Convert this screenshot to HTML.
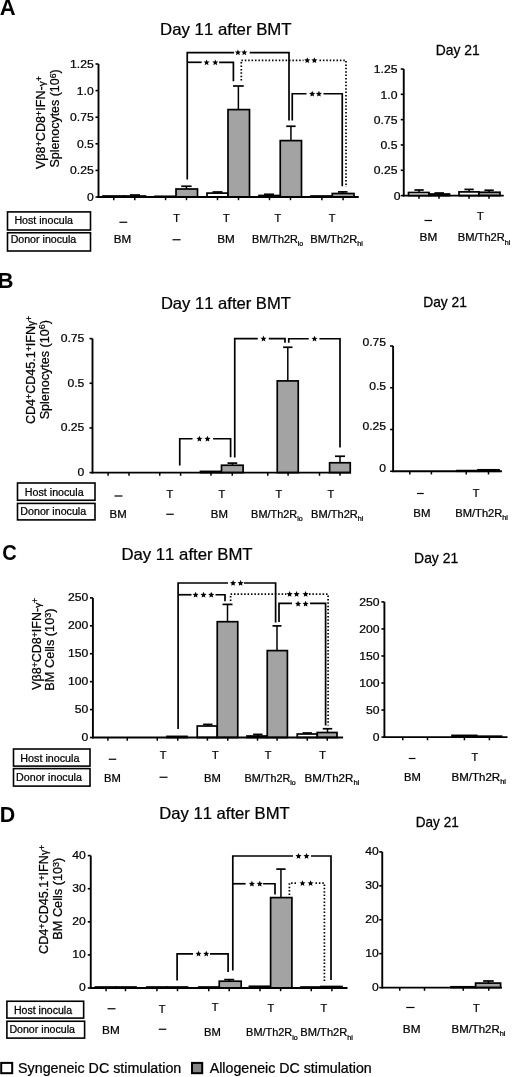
<!DOCTYPE html>
<html><head><meta charset="utf-8"><style>
html,body{margin:0;padding:0;background:#fff;}
body{width:520px;height:1077px;overflow:hidden;}
svg{display:block;font-family:"Liberation Sans", sans-serif;font-kerning:none;will-change:transform;}
</style></head><body>
<svg width="520" height="1077" viewBox="0 0 520 1077">
<rect x="0" y="0" width="520" height="1077" fill="#fff"/>
<g transform="translate(-0.25,14.80) scale(1.0260,1)" font-weight="bold" fill="#000"><text x="0.00" y="-0.00" font-size="21.50">A</text></g>
<g transform="translate(160.12,34.75) scale(1.0296,1)" fill="#000" stroke="#000" stroke-width="0.243"><text x="0.00" y="-0.00" font-size="16.30">Day 11 after BMT</text></g>
<g transform="translate(435.76,54.75) scale(0.9900,1)" fill="#000" stroke="#000" stroke-width="0.253"><text x="0.00" y="-0.00" font-size="14.00">Day 21</text></g>
<g transform="translate(44.80,169.06) rotate(-90) scale(1.0516,1)" fill="#000" stroke="#000" stroke-width="0.238"><text x="0.00" y="0.00" font-size="12.00">Vβ8</text><text x="21.58" y="-2.40" font-size="8.40">+</text><text x="26.49" y="0.00" font-size="12.00">CD8</text><text x="50.49" y="-2.40" font-size="8.40">+</text><text x="55.40" y="0.00" font-size="12.00">IFN-</text><text x="78.72" y="0.00" font-size="9.60">γ</text><text x="83.52" y="-2.40" font-size="8.40">+</text></g>
<g transform="translate(58.60,167.57) rotate(-90) scale(1.0382,1)" fill="#000" stroke="#000" stroke-width="0.241"><text x="0.00" y="0.00" font-size="12.00">Splenocytes (10</text><text x="86.05" y="-3.00" font-size="8.40">6</text><text x="90.72" y="0.00" font-size="12.00">)</text></g>
<rect x="103.00" y="196.00" width="21.00" height="1.00" fill="#fff" stroke="#000" stroke-width="1.7"/>
<line x1="135.00" y1="196.00" x2="135.00" y2="195.00" stroke="#000" stroke-width="1.5" stroke-linecap="butt"/>
<line x1="130.00" y1="195.00" x2="140.00" y2="195.00" stroke="#000" stroke-width="1.7" stroke-linecap="butt"/>
<rect x="124.00" y="196.00" width="21.50" height="1.00" fill="#a3a3a3" stroke="#000" stroke-width="1.7"/>
<rect x="155.00" y="196.30" width="21.00" height="0.70" fill="#fff" stroke="#000" stroke-width="1.7"/>
<line x1="186.43" y1="189.00" x2="186.43" y2="186.25" stroke="#000" stroke-width="1.5" stroke-linecap="butt"/>
<line x1="181.25" y1="186.25" x2="191.60" y2="186.25" stroke="#000" stroke-width="1.7" stroke-linecap="butt"/>
<rect x="176.00" y="189.00" width="21.50" height="8.00" fill="#a3a3a3" stroke="#000" stroke-width="1.7"/>
<line x1="217.50" y1="193.10" x2="217.50" y2="192.00" stroke="#000" stroke-width="1.5" stroke-linecap="butt"/>
<line x1="212.50" y1="192.00" x2="222.50" y2="192.00" stroke="#000" stroke-width="1.7" stroke-linecap="butt"/>
<rect x="207.00" y="193.10" width="21.00" height="3.90" fill="#fff" stroke="#000" stroke-width="1.7"/>
<line x1="238.38" y1="109.60" x2="238.38" y2="86.00" stroke="#000" stroke-width="1.5" stroke-linecap="butt"/>
<line x1="233.00" y1="86.00" x2="243.75" y2="86.00" stroke="#000" stroke-width="1.7" stroke-linecap="butt"/>
<rect x="228.00" y="109.60" width="21.50" height="87.40" fill="#a3a3a3" stroke="#000" stroke-width="1.7"/>
<line x1="269.00" y1="195.50" x2="269.00" y2="194.30" stroke="#000" stroke-width="1.5" stroke-linecap="butt"/>
<line x1="264.00" y1="194.30" x2="274.00" y2="194.30" stroke="#000" stroke-width="1.7" stroke-linecap="butt"/>
<rect x="259.00" y="195.50" width="21.25" height="1.50" fill="#fff" stroke="#000" stroke-width="1.7"/>
<line x1="290.93" y1="140.60" x2="290.93" y2="126.25" stroke="#000" stroke-width="1.5" stroke-linecap="butt"/>
<line x1="286.25" y1="126.25" x2="295.60" y2="126.25" stroke="#000" stroke-width="1.7" stroke-linecap="butt"/>
<rect x="280.25" y="140.60" width="21.25" height="56.40" fill="#a3a3a3" stroke="#000" stroke-width="1.7"/>
<rect x="311.00" y="196.00" width="21.00" height="1.00" fill="#fff" stroke="#000" stroke-width="1.7"/>
<line x1="342.75" y1="193.50" x2="342.75" y2="191.90" stroke="#000" stroke-width="1.5" stroke-linecap="butt"/>
<line x1="338.00" y1="191.90" x2="347.50" y2="191.90" stroke="#000" stroke-width="1.7" stroke-linecap="butt"/>
<rect x="332.25" y="193.50" width="21.75" height="3.50" fill="#a3a3a3" stroke="#000" stroke-width="1.7"/>
<line x1="98.50" y1="64.00" x2="98.50" y2="197.85" stroke="#000" stroke-width="1.9" stroke-linecap="butt"/>
<line x1="97.65" y1="197.00" x2="358.75" y2="197.00" stroke="#000" stroke-width="1.9" stroke-linecap="butt"/>
<line x1="95.50" y1="197.00" x2="98.50" y2="197.00" stroke="#000" stroke-width="1.6" stroke-linecap="butt"/>
<g transform="translate(87.00,201.00) scale(1.0500,1)" fill="#000" stroke="#000" stroke-width="0.238"><text x="0.00" y="-0.00" font-size="11.60">0</text></g>
<line x1="95.50" y1="170.40" x2="98.50" y2="170.40" stroke="#000" stroke-width="1.6" stroke-linecap="butt"/>
<g transform="translate(70.11,174.40) scale(1.0500,1)" fill="#000" stroke="#000" stroke-width="0.238"><text x="0.00" y="-0.00" font-size="11.60">0.25</text></g>
<line x1="95.50" y1="143.80" x2="98.50" y2="143.80" stroke="#000" stroke-width="1.6" stroke-linecap="butt"/>
<g transform="translate(76.88,147.80) scale(1.0500,1)" fill="#000" stroke="#000" stroke-width="0.238"><text x="0.00" y="-0.00" font-size="11.60">0.5</text></g>
<line x1="95.50" y1="117.20" x2="98.50" y2="117.20" stroke="#000" stroke-width="1.6" stroke-linecap="butt"/>
<g transform="translate(70.11,121.20) scale(1.0500,1)" fill="#000" stroke="#000" stroke-width="0.238"><text x="0.00" y="-0.00" font-size="11.60">0.75</text></g>
<line x1="95.50" y1="90.60" x2="98.50" y2="90.60" stroke="#000" stroke-width="1.6" stroke-linecap="butt"/>
<g transform="translate(76.84,94.60) scale(1.0500,1)" fill="#000" stroke="#000" stroke-width="0.238"><text x="0.00" y="-0.00" font-size="11.60">1.0</text></g>
<line x1="95.50" y1="64.00" x2="98.50" y2="64.00" stroke="#000" stroke-width="1.6" stroke-linecap="butt"/>
<g transform="translate(70.11,68.00) scale(1.0500,1)" fill="#000" stroke="#000" stroke-width="0.238"><text x="0.00" y="-0.00" font-size="11.60">1.25</text></g>
<line x1="113.75" y1="197.00" x2="113.75" y2="200.20" stroke="#000" stroke-width="1.5" stroke-linecap="butt"/>
<line x1="134.75" y1="197.00" x2="134.75" y2="200.20" stroke="#000" stroke-width="1.5" stroke-linecap="butt"/>
<line x1="165.60" y1="197.00" x2="165.60" y2="200.20" stroke="#000" stroke-width="1.5" stroke-linecap="butt"/>
<line x1="186.50" y1="197.00" x2="186.50" y2="200.20" stroke="#000" stroke-width="1.5" stroke-linecap="butt"/>
<line x1="217.50" y1="197.00" x2="217.50" y2="200.20" stroke="#000" stroke-width="1.5" stroke-linecap="butt"/>
<line x1="238.50" y1="197.00" x2="238.50" y2="200.20" stroke="#000" stroke-width="1.5" stroke-linecap="butt"/>
<line x1="269.50" y1="197.00" x2="269.50" y2="200.20" stroke="#000" stroke-width="1.5" stroke-linecap="butt"/>
<line x1="290.50" y1="197.00" x2="290.50" y2="200.20" stroke="#000" stroke-width="1.5" stroke-linecap="butt"/>
<line x1="321.90" y1="197.00" x2="321.90" y2="200.20" stroke="#000" stroke-width="1.5" stroke-linecap="butt"/>
<line x1="343.10" y1="197.00" x2="343.10" y2="200.20" stroke="#000" stroke-width="1.5" stroke-linecap="butt"/>
<line x1="419.07" y1="192.50" x2="419.07" y2="190.00" stroke="#000" stroke-width="1.5" stroke-linecap="butt"/>
<line x1="414.40" y1="190.00" x2="423.75" y2="190.00" stroke="#000" stroke-width="1.7" stroke-linecap="butt"/>
<rect x="408.50" y="192.50" width="20.50" height="3.10" fill="#fff" stroke="#000" stroke-width="1.7"/>
<line x1="439.25" y1="194.00" x2="439.25" y2="193.00" stroke="#000" stroke-width="1.5" stroke-linecap="butt"/>
<line x1="434.50" y1="193.00" x2="444.00" y2="193.00" stroke="#000" stroke-width="1.7" stroke-linecap="butt"/>
<rect x="429.00" y="194.00" width="20.50" height="1.60" fill="#a3a3a3" stroke="#000" stroke-width="1.7"/>
<line x1="469.07" y1="191.90" x2="469.07" y2="189.40" stroke="#000" stroke-width="1.5" stroke-linecap="butt"/>
<line x1="464.40" y1="189.40" x2="473.75" y2="189.40" stroke="#000" stroke-width="1.7" stroke-linecap="butt"/>
<rect x="459.00" y="191.90" width="20.00" height="3.70" fill="#fff" stroke="#000" stroke-width="1.7"/>
<line x1="489.07" y1="192.25" x2="489.07" y2="190.25" stroke="#000" stroke-width="1.5" stroke-linecap="butt"/>
<line x1="484.40" y1="190.25" x2="493.75" y2="190.25" stroke="#000" stroke-width="1.7" stroke-linecap="butt"/>
<rect x="479.00" y="192.25" width="21.00" height="3.35" fill="#a3a3a3" stroke="#000" stroke-width="1.7"/>
<line x1="403.75" y1="69.00" x2="403.75" y2="196.45" stroke="#000" stroke-width="1.9" stroke-linecap="butt"/>
<line x1="402.90" y1="195.60" x2="503.75" y2="195.60" stroke="#000" stroke-width="1.9" stroke-linecap="butt"/>
<line x1="400.75" y1="195.60" x2="403.75" y2="195.60" stroke="#000" stroke-width="1.6" stroke-linecap="butt"/>
<g transform="translate(393.70,199.90) scale(1.0500,1)" fill="#000" stroke="#000" stroke-width="0.238"><text x="0.00" y="-0.00" font-size="11.60">0</text></g>
<line x1="400.75" y1="170.28" x2="403.75" y2="170.28" stroke="#000" stroke-width="1.6" stroke-linecap="butt"/>
<g transform="translate(373.81,174.48) scale(1.0500,1)" fill="#000" stroke="#000" stroke-width="0.238"><text x="0.00" y="-0.00" font-size="11.60">0.25</text></g>
<line x1="400.75" y1="144.96" x2="403.75" y2="144.96" stroke="#000" stroke-width="1.6" stroke-linecap="butt"/>
<g transform="translate(380.58,149.16) scale(1.0500,1)" fill="#000" stroke="#000" stroke-width="0.238"><text x="0.00" y="-0.00" font-size="11.60">0.5</text></g>
<line x1="400.75" y1="119.64" x2="403.75" y2="119.64" stroke="#000" stroke-width="1.6" stroke-linecap="butt"/>
<g transform="translate(373.81,123.84) scale(1.0500,1)" fill="#000" stroke="#000" stroke-width="0.238"><text x="0.00" y="-0.00" font-size="11.60">0.75</text></g>
<line x1="400.75" y1="94.32" x2="403.75" y2="94.32" stroke="#000" stroke-width="1.6" stroke-linecap="butt"/>
<g transform="translate(380.54,98.52) scale(1.0500,1)" fill="#000" stroke="#000" stroke-width="0.238"><text x="0.00" y="-0.00" font-size="11.60">1.0</text></g>
<line x1="400.75" y1="69.00" x2="403.75" y2="69.00" stroke="#000" stroke-width="1.6" stroke-linecap="butt"/>
<g transform="translate(373.81,73.20) scale(1.0500,1)" fill="#000" stroke="#000" stroke-width="0.238"><text x="0.00" y="-0.00" font-size="11.60">1.25</text></g>
<line x1="419.00" y1="195.60" x2="419.00" y2="198.80" stroke="#000" stroke-width="1.5" stroke-linecap="butt"/>
<line x1="439.00" y1="195.60" x2="439.00" y2="198.80" stroke="#000" stroke-width="1.5" stroke-linecap="butt"/>
<line x1="469.00" y1="195.60" x2="469.00" y2="198.80" stroke="#000" stroke-width="1.5" stroke-linecap="butt"/>
<line x1="489.00" y1="195.60" x2="489.00" y2="198.80" stroke="#000" stroke-width="1.5" stroke-linecap="butt"/>
<polyline points="187.25,179.40 187.25,52.60 234.10,52.60" fill="none" stroke="#000" stroke-width="1.7" stroke-linejoin="miter" stroke-linecap="butt"/>
<polyline points="249.70,52.60 289.00,52.60 289.00,120.60" fill="none" stroke="#000" stroke-width="1.7" stroke-linejoin="miter" stroke-linecap="butt"/>
<polygon points="237.90,49.40 238.75,51.44 240.94,51.61 239.27,53.04 239.78,55.19 237.90,54.04 236.02,55.19 236.53,53.04 234.86,51.61 237.05,51.44" fill="#000"/>
<polygon points="244.30,49.40 245.15,51.44 247.34,51.61 245.67,53.04 246.18,55.19 244.30,54.04 242.42,55.19 242.93,53.04 241.26,51.61 243.45,51.44" fill="#000"/>
<polyline points="187.25,62.30 201.70,62.30" fill="none" stroke="#000" stroke-width="1.7" stroke-linejoin="miter" stroke-linecap="butt"/>
<polyline points="219.10,62.30 233.40,62.30 233.40,81.25" fill="none" stroke="#000" stroke-width="1.7" stroke-linejoin="miter" stroke-linecap="butt"/>
<polygon points="206.60,59.40 207.45,61.44 209.64,61.61 207.97,63.04 208.48,65.19 206.60,64.04 204.72,65.19 205.23,63.04 203.56,61.61 205.75,61.44" fill="#000"/>
<polygon points="215.30,59.40 216.15,61.44 218.34,61.61 216.67,63.04 217.18,65.19 215.30,64.04 213.42,65.19 213.93,63.04 212.26,61.61 214.45,61.44" fill="#000"/>
<polyline points="241.30,80.60 241.30,60.30 303.50,60.30" fill="none" stroke="#000" stroke-width="1.7" stroke-linejoin="miter" stroke-linecap="butt" stroke-dasharray="1.5,1.9"/>
<polyline points="319.50,60.30 346.00,60.30 346.00,186.90" fill="none" stroke="#000" stroke-width="1.7" stroke-linejoin="miter" stroke-linecap="butt" stroke-dasharray="1.5,1.9"/>
<polygon points="307.25,57.30 308.10,59.34 310.29,59.51 308.62,60.94 309.13,63.09 307.25,61.94 305.37,63.09 305.88,60.94 304.21,59.51 306.40,59.34" fill="#000"/>
<polygon points="314.40,57.30 315.25,59.34 317.44,59.51 315.77,60.94 316.28,63.09 314.40,61.94 312.52,63.09 313.03,60.94 311.36,59.51 313.55,59.34" fill="#000"/>
<polyline points="292.25,120.60 292.25,93.75 306.50,93.75" fill="none" stroke="#000" stroke-width="1.7" stroke-linejoin="miter" stroke-linecap="butt"/>
<polyline points="323.50,93.75 342.25,93.75 342.25,186.25" fill="none" stroke="#000" stroke-width="1.7" stroke-linejoin="miter" stroke-linecap="butt"/>
<polygon points="312.20,90.80 313.05,92.84 315.24,93.01 313.57,94.44 314.08,96.59 312.20,95.44 310.32,96.59 310.83,94.44 309.16,93.01 311.35,92.84" fill="#000"/>
<polygon points="318.90,90.80 319.75,92.84 321.94,93.01 320.27,94.44 320.78,96.59 318.90,95.44 317.02,96.59 317.53,94.44 315.86,93.01 318.05,92.84" fill="#000"/>
<rect x="7.50" y="211.90" width="83.00" height="18.10" fill="none" stroke="#000" stroke-width="1.6"/>
<rect x="7.50" y="232.75" width="83.00" height="18.25" fill="none" stroke="#000" stroke-width="1.6"/>
<g transform="translate(14.38,224.00) scale(1.0050,1)" fill="#000" stroke="#000" stroke-width="0.249"><text x="0.00" y="-0.00" font-size="10.60">Host inocula</text></g>
<g transform="translate(10.63,243.10) scale(1.0033,1)" fill="#000" stroke="#000" stroke-width="0.249"><text x="0.00" y="-0.00" font-size="10.60">Donor inocula</text></g>
<line x1="119.40" y1="222.25" x2="127.25" y2="222.25" stroke="#000" stroke-width="1.2" stroke-linecap="butt"/>
<g transform="translate(173.25,221.90) scale(1.0344,1)" fill="#000" stroke="#000" stroke-width="0.242"><text x="0.00" y="-0.00" font-size="10.60">T</text></g>
<g transform="translate(222.90,221.90) scale(1.0344,1)" fill="#000" stroke="#000" stroke-width="0.242"><text x="0.00" y="-0.00" font-size="10.60">T</text></g>
<g transform="translate(274.40,221.90) scale(1.0344,1)" fill="#000" stroke="#000" stroke-width="0.242"><text x="0.00" y="-0.00" font-size="10.60">T</text></g>
<g transform="translate(328.75,221.90) scale(1.0344,1)" fill="#000" stroke="#000" stroke-width="0.242"><text x="0.00" y="-0.00" font-size="10.60">T</text></g>
<line x1="424.50" y1="220.50" x2="432.00" y2="220.50" stroke="#000" stroke-width="1.2" stroke-linecap="butt"/>
<g transform="translate(476.90,220.00) scale(1.0344,1)" fill="#000" stroke="#000" stroke-width="0.242"><text x="0.00" y="-0.00" font-size="10.60">T</text></g>
<g transform="translate(113.80,242.50) scale(1.0946,1)" fill="#000" stroke="#000" stroke-width="0.228"><text x="0.00" y="-0.00" font-size="10.60">BM</text></g>
<line x1="172.50" y1="239.75" x2="180.60" y2="239.75" stroke="#000" stroke-width="1.2" stroke-linecap="butt"/>
<g transform="translate(217.14,242.50) scale(1.1052,1)" fill="#000" stroke="#000" stroke-width="0.226"><text x="0.00" y="-0.00" font-size="10.60">BM</text></g>
<g transform="translate(252.11,242.50) scale(1.0211,1)" fill="#000" stroke="#000" stroke-width="0.245"><text x="0.00" y="-0.00" font-size="10.60">BM/Th2R</text><text x="44.77" y="3.29" font-size="6.89">lo</text></g>
<g transform="translate(310.34,242.50) scale(1.0503,1)" fill="#000" stroke="#000" stroke-width="0.238"><text x="0.00" y="-0.00" font-size="10.60">BM/Th2R</text><text x="44.77" y="3.29" font-size="6.89">hi</text></g>
<g transform="translate(419.53,241.25) scale(1.1122,1)" fill="#000" stroke="#000" stroke-width="0.225"><text x="0.00" y="-0.00" font-size="10.60">BM</text></g>
<g transform="translate(457.84,241.25) scale(1.0503,1)" fill="#000" stroke="#000" stroke-width="0.238"><text x="0.00" y="-0.00" font-size="10.60">BM/Th2R</text><text x="44.77" y="3.29" font-size="6.89">hi</text></g>
<g transform="translate(-2.48,288.10) scale(1.0296,1)" font-weight="bold" fill="#000"><text x="0.00" y="-0.00" font-size="21.50">B</text></g>
<g transform="translate(160.89,309.00) scale(1.0185,1)" fill="#000" stroke="#000" stroke-width="0.245"><text x="0.00" y="-0.00" font-size="16.30">Day 11 after BMT</text></g>
<g transform="translate(423.27,306.90) scale(0.9841,1)" fill="#000" stroke="#000" stroke-width="0.254"><text x="0.00" y="-0.00" font-size="14.00">Day 21</text></g>
<g transform="translate(34.90,424.04) rotate(-90) scale(0.9653,1)" fill="#000" stroke="#000" stroke-width="0.259"><text x="0.00" y="0.00" font-size="13.00">CD4</text><text x="26.01" y="-2.60" font-size="9.10">+</text><text x="31.32" y="0.00" font-size="13.00">CD45.1</text><text x="75.40" y="-2.60" font-size="9.10">+</text><text x="80.71" y="0.00" font-size="13.00">IFN</text><text x="101.65" y="0.00" font-size="10.40">γ</text><text x="106.85" y="-2.60" font-size="9.10">+</text></g>
<g transform="translate(48.60,419.37) rotate(-90) scale(0.9682,1)" fill="#000" stroke="#000" stroke-width="0.258"><text x="0.00" y="0.00" font-size="13.00">Splenocytes (10</text><text x="93.22" y="-3.25" font-size="9.10">6</text><text x="98.28" y="0.00" font-size="13.00">)</text></g>
<rect x="200.50" y="471.40" width="21.00" height="1.20" fill="#fff" stroke="#000" stroke-width="1.7"/>
<line x1="232.38" y1="465.25" x2="232.38" y2="463.10" stroke="#000" stroke-width="1.5" stroke-linecap="butt"/>
<line x1="227.50" y1="463.10" x2="237.25" y2="463.10" stroke="#000" stroke-width="1.7" stroke-linecap="butt"/>
<rect x="221.50" y="465.25" width="21.60" height="7.35" fill="#a3a3a3" stroke="#000" stroke-width="1.7"/>
<line x1="287.80" y1="380.90" x2="287.80" y2="347.25" stroke="#000" stroke-width="1.5" stroke-linecap="butt"/>
<line x1="283.10" y1="347.25" x2="292.50" y2="347.25" stroke="#000" stroke-width="1.7" stroke-linecap="butt"/>
<rect x="277.25" y="380.90" width="21.00" height="91.70" fill="#a3a3a3" stroke="#000" stroke-width="1.7"/>
<line x1="340.00" y1="462.75" x2="340.00" y2="456.25" stroke="#000" stroke-width="1.5" stroke-linecap="butt"/>
<line x1="335.00" y1="456.25" x2="345.00" y2="456.25" stroke="#000" stroke-width="1.7" stroke-linecap="butt"/>
<rect x="329.60" y="462.75" width="20.65" height="9.85" fill="#a3a3a3" stroke="#000" stroke-width="1.7"/>
<line x1="92.50" y1="338.60" x2="92.50" y2="473.45" stroke="#000" stroke-width="1.9" stroke-linecap="butt"/>
<line x1="91.65" y1="472.60" x2="351.00" y2="472.60" stroke="#000" stroke-width="1.9" stroke-linecap="butt"/>
<line x1="89.50" y1="472.60" x2="92.50" y2="472.60" stroke="#000" stroke-width="1.6" stroke-linecap="butt"/>
<g transform="translate(77.60,475.90) scale(1.0500,1)" fill="#000" stroke="#000" stroke-width="0.238"><text x="0.00" y="-0.00" font-size="11.60">0</text></g>
<line x1="89.50" y1="427.93" x2="92.50" y2="427.93" stroke="#000" stroke-width="1.6" stroke-linecap="butt"/>
<g transform="translate(60.71,431.23) scale(1.0500,1)" fill="#000" stroke="#000" stroke-width="0.238"><text x="0.00" y="-0.00" font-size="11.60">0.25</text></g>
<line x1="89.50" y1="383.27" x2="92.50" y2="383.27" stroke="#000" stroke-width="1.6" stroke-linecap="butt"/>
<g transform="translate(67.48,386.57) scale(1.0500,1)" fill="#000" stroke="#000" stroke-width="0.238"><text x="0.00" y="-0.00" font-size="11.60">0.5</text></g>
<line x1="89.50" y1="338.60" x2="92.50" y2="338.60" stroke="#000" stroke-width="1.6" stroke-linecap="butt"/>
<g transform="translate(60.71,341.90) scale(1.0500,1)" fill="#000" stroke="#000" stroke-width="0.238"><text x="0.00" y="-0.00" font-size="11.60">0.75</text></g>
<line x1="108.10" y1="472.60" x2="108.10" y2="475.80" stroke="#000" stroke-width="1.5" stroke-linecap="butt"/>
<line x1="129.00" y1="472.60" x2="129.00" y2="475.80" stroke="#000" stroke-width="1.5" stroke-linecap="butt"/>
<line x1="159.75" y1="472.60" x2="159.75" y2="475.80" stroke="#000" stroke-width="1.5" stroke-linecap="butt"/>
<line x1="180.60" y1="472.60" x2="180.60" y2="475.80" stroke="#000" stroke-width="1.5" stroke-linecap="butt"/>
<line x1="211.00" y1="472.60" x2="211.00" y2="475.80" stroke="#000" stroke-width="1.5" stroke-linecap="butt"/>
<line x1="232.25" y1="472.60" x2="232.25" y2="475.80" stroke="#000" stroke-width="1.5" stroke-linecap="butt"/>
<line x1="267.75" y1="472.60" x2="267.75" y2="475.80" stroke="#000" stroke-width="1.5" stroke-linecap="butt"/>
<line x1="288.10" y1="472.60" x2="288.10" y2="475.80" stroke="#000" stroke-width="1.5" stroke-linecap="butt"/>
<line x1="319.50" y1="472.60" x2="319.50" y2="475.80" stroke="#000" stroke-width="1.5" stroke-linecap="butt"/>
<line x1="340.00" y1="472.60" x2="340.00" y2="475.80" stroke="#000" stroke-width="1.5" stroke-linecap="butt"/>
<rect x="457.00" y="470.60" width="21.00" height="0.65" fill="#fff" stroke="#000" stroke-width="1.7"/>
<rect x="478.00" y="469.80" width="21.00" height="1.45" fill="#a3a3a3" stroke="#000" stroke-width="1.7"/>
<line x1="393.10" y1="346.00" x2="393.10" y2="472.10" stroke="#000" stroke-width="1.9" stroke-linecap="butt"/>
<line x1="392.25" y1="471.25" x2="501.90" y2="471.25" stroke="#000" stroke-width="1.9" stroke-linecap="butt"/>
<line x1="390.10" y1="471.25" x2="393.10" y2="471.25" stroke="#000" stroke-width="1.6" stroke-linecap="butt"/>
<g transform="translate(379.30,471.50) scale(1.0500,1)" fill="#000" stroke="#000" stroke-width="0.238"><text x="0.00" y="-0.00" font-size="11.60">0</text></g>
<line x1="390.10" y1="429.50" x2="393.10" y2="429.50" stroke="#000" stroke-width="1.6" stroke-linecap="butt"/>
<g transform="translate(362.41,430.25) scale(1.0500,1)" fill="#000" stroke="#000" stroke-width="0.238"><text x="0.00" y="-0.00" font-size="11.60">0.25</text></g>
<line x1="390.10" y1="387.75" x2="393.10" y2="387.75" stroke="#000" stroke-width="1.6" stroke-linecap="butt"/>
<g transform="translate(369.18,389.60) scale(1.0500,1)" fill="#000" stroke="#000" stroke-width="0.238"><text x="0.00" y="-0.00" font-size="11.60">0.5</text></g>
<line x1="390.10" y1="346.00" x2="393.10" y2="346.00" stroke="#000" stroke-width="1.6" stroke-linecap="butt"/>
<g transform="translate(362.41,345.60) scale(1.0500,1)" fill="#000" stroke="#000" stroke-width="0.238"><text x="0.00" y="-0.00" font-size="11.60">0.75</text></g>
<line x1="409.80" y1="471.25" x2="409.80" y2="474.45" stroke="#000" stroke-width="1.5" stroke-linecap="butt"/>
<line x1="431.40" y1="471.25" x2="431.40" y2="474.45" stroke="#000" stroke-width="1.5" stroke-linecap="butt"/>
<line x1="466.25" y1="471.25" x2="466.25" y2="474.45" stroke="#000" stroke-width="1.5" stroke-linecap="butt"/>
<line x1="488.50" y1="471.25" x2="488.50" y2="474.45" stroke="#000" stroke-width="1.5" stroke-linecap="butt"/>
<polyline points="179.75,465.60 179.75,438.75 192.50,438.75" fill="none" stroke="#000" stroke-width="1.7" stroke-linejoin="miter" stroke-linecap="butt"/>
<polyline points="213.10,438.75 230.60,438.75 230.60,457.25" fill="none" stroke="#000" stroke-width="1.7" stroke-linejoin="miter" stroke-linecap="butt"/>
<polygon points="199.40,435.80 200.25,437.84 202.44,438.01 200.77,439.44 201.28,441.59 199.40,440.44 197.52,441.59 198.03,439.44 196.36,438.01 198.55,437.84" fill="#000"/>
<polygon points="207.50,435.80 208.35,437.84 210.54,438.01 208.87,439.44 209.38,441.59 207.50,440.44 205.62,441.59 206.13,439.44 204.46,438.01 206.65,437.84" fill="#000"/>
<polyline points="234.75,457.50 234.75,338.60 257.75,338.60" fill="none" stroke="#000" stroke-width="1.7" stroke-linejoin="miter" stroke-linecap="butt"/>
<polyline points="268.75,338.60 285.00,338.60 285.00,342.80" fill="none" stroke="#000" stroke-width="1.7" stroke-linejoin="miter" stroke-linecap="butt"/>
<polygon points="263.50,335.60 264.35,337.64 266.54,337.81 264.87,339.24 265.38,341.39 263.50,340.24 261.62,341.39 262.13,339.24 260.46,337.81 262.65,337.64" fill="#000"/>
<polyline points="288.75,342.80 288.75,338.75 308.75,338.75" fill="none" stroke="#000" stroke-width="1.7" stroke-linejoin="miter" stroke-linecap="butt"/>
<polyline points="319.40,338.75 340.00,338.75 340.00,447.50" fill="none" stroke="#000" stroke-width="1.7" stroke-linejoin="miter" stroke-linecap="butt"/>
<polygon points="314.50,335.70 315.35,337.74 317.54,337.91 315.87,339.34 316.38,341.49 314.50,340.34 312.62,341.49 313.13,339.34 311.46,337.91 313.65,337.74" fill="#000"/>
<rect x="17.50" y="483.00" width="77.50" height="17.25" fill="none" stroke="#000" stroke-width="1.6"/>
<rect x="17.50" y="503.40" width="77.50" height="16.50" fill="none" stroke="#000" stroke-width="1.6"/>
<g transform="translate(24.87,495.50) scale(1.0094,1)" fill="#000" stroke="#000" stroke-width="0.248"><text x="0.00" y="-0.00" font-size="10.60">Host inocula</text></g>
<g transform="translate(20.37,514.90) scale(1.0072,1)" fill="#000" stroke="#000" stroke-width="0.248"><text x="0.00" y="-0.00" font-size="10.60">Donor inocula</text></g>
<line x1="114.50" y1="496.00" x2="122.50" y2="496.00" stroke="#000" stroke-width="1.2" stroke-linecap="butt"/>
<g transform="translate(166.40,497.50) scale(1.0344,1)" fill="#000" stroke="#000" stroke-width="0.242"><text x="0.00" y="-0.00" font-size="10.60">T</text></g>
<g transform="translate(218.55,497.50) scale(1.0344,1)" fill="#000" stroke="#000" stroke-width="0.242"><text x="0.00" y="-0.00" font-size="10.60">T</text></g>
<g transform="translate(275.40,497.50) scale(1.0344,1)" fill="#000" stroke="#000" stroke-width="0.242"><text x="0.00" y="-0.00" font-size="10.60">T</text></g>
<g transform="translate(327.40,497.50) scale(1.0344,1)" fill="#000" stroke="#000" stroke-width="0.242"><text x="0.00" y="-0.00" font-size="10.60">T</text></g>
<line x1="417.00" y1="493.50" x2="423.75" y2="493.50" stroke="#000" stroke-width="1.2" stroke-linecap="butt"/>
<g transform="translate(472.65,496.75) scale(1.0344,1)" fill="#000" stroke="#000" stroke-width="0.242"><text x="0.00" y="-0.00" font-size="10.60">T</text></g>
<g transform="translate(109.56,518.00) scale(1.0769,1)" fill="#000" stroke="#000" stroke-width="0.232"><text x="0.00" y="-0.00" font-size="10.60">BM</text></g>
<line x1="166.25" y1="514.25" x2="173.75" y2="514.25" stroke="#000" stroke-width="1.2" stroke-linecap="butt"/>
<g transform="translate(210.81,518.00) scale(1.0769,1)" fill="#000" stroke="#000" stroke-width="0.232"><text x="0.00" y="-0.00" font-size="10.60">BM</text></g>
<g transform="translate(251.10,518.00) scale(1.0313,1)" fill="#000" stroke="#000" stroke-width="0.242"><text x="0.00" y="-0.00" font-size="10.60">BM/Th2R</text><text x="44.77" y="3.29" font-size="6.89">lo</text></g>
<g transform="translate(311.09,518.00) scale(1.0452,1)" fill="#000" stroke="#000" stroke-width="0.239"><text x="0.00" y="-0.00" font-size="10.60">BM/Th2R</text><text x="44.77" y="3.29" font-size="6.89">hi</text></g>
<g transform="translate(413.31,516.75) scale(1.0769,1)" fill="#000" stroke="#000" stroke-width="0.232"><text x="0.00" y="-0.00" font-size="10.60">BM</text></g>
<g transform="translate(455.34,516.75) scale(1.0503,1)" fill="#000" stroke="#000" stroke-width="0.238"><text x="0.00" y="-0.00" font-size="10.60">BM/Th2R</text><text x="44.77" y="3.29" font-size="6.89">hi</text></g>
<g transform="translate(2.28,559.60) scale(0.9355,1)" font-weight="bold" fill="#000"><text x="0.00" y="-0.00" font-size="21.50">C</text></g>
<g transform="translate(121.38,559.75) scale(1.0277,1)" fill="#000" stroke="#000" stroke-width="0.243"><text x="0.00" y="-0.00" font-size="16.30">Day 11 after BMT</text></g>
<g transform="translate(414.11,562.75) scale(0.9935,1)" fill="#000" stroke="#000" stroke-width="0.252"><text x="0.00" y="-0.00" font-size="14.00">Day 21</text></g>
<g transform="translate(40.80,689.75) rotate(-90) scale(1.0402,1)" fill="#000" stroke="#000" stroke-width="0.240"><text x="0.00" y="0.00" font-size="12.00">Vβ8</text><text x="21.58" y="-2.40" font-size="8.40">+</text><text x="26.49" y="0.00" font-size="12.00">CD8</text><text x="50.49" y="-2.40" font-size="8.40">+</text><text x="55.40" y="0.00" font-size="12.00">IFN-</text><text x="78.72" y="0.00" font-size="9.60">γ</text><text x="83.52" y="-2.40" font-size="8.40">+</text></g>
<g transform="translate(54.00,690.75) rotate(-90) scale(1.0645,1)" fill="#000" stroke="#000" stroke-width="0.235"><text x="0.00" y="0.00" font-size="12.00">BM Cells (10</text><text x="68.68" y="-3.00" font-size="8.40">3</text><text x="73.36" y="0.00" font-size="12.00">)</text></g>
<rect x="167.00" y="736.40" width="20.00" height="1.10" fill="#a3a3a3" stroke="#000" stroke-width="1.7"/>
<line x1="207.80" y1="726.00" x2="207.80" y2="724.40" stroke="#000" stroke-width="1.5" stroke-linecap="butt"/>
<line x1="203.10" y1="724.40" x2="212.50" y2="724.40" stroke="#000" stroke-width="1.7" stroke-linecap="butt"/>
<rect x="197.25" y="726.00" width="20.00" height="11.50" fill="#fff" stroke="#000" stroke-width="1.7"/>
<line x1="227.50" y1="621.70" x2="227.50" y2="604.40" stroke="#000" stroke-width="1.5" stroke-linecap="butt"/>
<line x1="222.50" y1="604.40" x2="232.50" y2="604.40" stroke="#000" stroke-width="1.7" stroke-linecap="butt"/>
<rect x="217.25" y="621.70" width="20.50" height="115.80" fill="#a3a3a3" stroke="#000" stroke-width="1.7"/>
<line x1="257.80" y1="736.00" x2="257.80" y2="734.40" stroke="#000" stroke-width="1.5" stroke-linecap="butt"/>
<line x1="253.10" y1="734.40" x2="262.50" y2="734.40" stroke="#000" stroke-width="1.7" stroke-linecap="butt"/>
<rect x="247.00" y="736.00" width="20.25" height="1.50" fill="#fff" stroke="#000" stroke-width="1.7"/>
<line x1="277.00" y1="650.60" x2="277.00" y2="625.90" stroke="#000" stroke-width="1.5" stroke-linecap="butt"/>
<line x1="272.50" y1="625.90" x2="281.50" y2="625.90" stroke="#000" stroke-width="1.7" stroke-linecap="butt"/>
<rect x="267.25" y="650.60" width="20.15" height="86.90" fill="#a3a3a3" stroke="#000" stroke-width="1.7"/>
<line x1="307.20" y1="734.00" x2="307.20" y2="733.00" stroke="#000" stroke-width="1.5" stroke-linecap="butt"/>
<line x1="302.50" y1="733.00" x2="311.90" y2="733.00" stroke="#000" stroke-width="1.7" stroke-linecap="butt"/>
<rect x="297.25" y="734.00" width="20.00" height="3.50" fill="#fff" stroke="#000" stroke-width="1.7"/>
<line x1="327.50" y1="732.50" x2="327.50" y2="728.75" stroke="#000" stroke-width="1.5" stroke-linecap="butt"/>
<line x1="322.75" y1="728.75" x2="332.25" y2="728.75" stroke="#000" stroke-width="1.7" stroke-linecap="butt"/>
<rect x="317.25" y="732.50" width="19.75" height="5.00" fill="#a3a3a3" stroke="#000" stroke-width="1.7"/>
<line x1="92.90" y1="597.90" x2="92.90" y2="738.35" stroke="#000" stroke-width="1.9" stroke-linecap="butt"/>
<line x1="92.05" y1="737.50" x2="343.10" y2="737.50" stroke="#000" stroke-width="1.9" stroke-linecap="butt"/>
<line x1="89.90" y1="737.50" x2="92.90" y2="737.50" stroke="#000" stroke-width="1.6" stroke-linecap="butt"/>
<g transform="translate(81.60,740.50) scale(1.0500,1)" fill="#000" stroke="#000" stroke-width="0.238"><text x="0.00" y="-0.00" font-size="11.60">0</text></g>
<line x1="89.90" y1="709.58" x2="92.90" y2="709.58" stroke="#000" stroke-width="1.6" stroke-linecap="butt"/>
<g transform="translate(74.83,712.58) scale(1.0500,1)" fill="#000" stroke="#000" stroke-width="0.238"><text x="0.00" y="-0.00" font-size="11.60">50</text></g>
<line x1="89.90" y1="681.66" x2="92.90" y2="681.66" stroke="#000" stroke-width="1.6" stroke-linecap="butt"/>
<g transform="translate(68.05,684.66) scale(1.0500,1)" fill="#000" stroke="#000" stroke-width="0.238"><text x="0.00" y="-0.00" font-size="11.60">100</text></g>
<line x1="89.90" y1="653.74" x2="92.90" y2="653.74" stroke="#000" stroke-width="1.6" stroke-linecap="butt"/>
<g transform="translate(68.05,656.74) scale(1.0500,1)" fill="#000" stroke="#000" stroke-width="0.238"><text x="0.00" y="-0.00" font-size="11.60">150</text></g>
<line x1="89.90" y1="625.82" x2="92.90" y2="625.82" stroke="#000" stroke-width="1.6" stroke-linecap="butt"/>
<g transform="translate(68.05,628.82) scale(1.0500,1)" fill="#000" stroke="#000" stroke-width="0.238"><text x="0.00" y="-0.00" font-size="11.60">200</text></g>
<line x1="89.90" y1="597.90" x2="92.90" y2="597.90" stroke="#000" stroke-width="1.6" stroke-linecap="butt"/>
<g transform="translate(68.05,600.90) scale(1.0500,1)" fill="#000" stroke="#000" stroke-width="0.238"><text x="0.00" y="-0.00" font-size="11.60">250</text></g>
<line x1="107.90" y1="737.50" x2="107.90" y2="740.70" stroke="#000" stroke-width="1.5" stroke-linecap="butt"/>
<line x1="127.25" y1="737.50" x2="127.25" y2="740.70" stroke="#000" stroke-width="1.5" stroke-linecap="butt"/>
<line x1="157.25" y1="737.50" x2="157.25" y2="740.70" stroke="#000" stroke-width="1.5" stroke-linecap="butt"/>
<line x1="177.75" y1="737.50" x2="177.75" y2="740.70" stroke="#000" stroke-width="1.5" stroke-linecap="butt"/>
<line x1="207.40" y1="737.50" x2="207.40" y2="740.70" stroke="#000" stroke-width="1.5" stroke-linecap="butt"/>
<line x1="227.75" y1="737.50" x2="227.75" y2="740.70" stroke="#000" stroke-width="1.5" stroke-linecap="butt"/>
<line x1="257.50" y1="737.50" x2="257.50" y2="740.70" stroke="#000" stroke-width="1.5" stroke-linecap="butt"/>
<line x1="277.10" y1="737.50" x2="277.10" y2="740.70" stroke="#000" stroke-width="1.5" stroke-linecap="butt"/>
<line x1="307.25" y1="737.50" x2="307.25" y2="740.70" stroke="#000" stroke-width="1.5" stroke-linecap="butt"/>
<line x1="327.25" y1="737.50" x2="327.25" y2="740.70" stroke="#000" stroke-width="1.5" stroke-linecap="butt"/>
<rect x="452.00" y="735.40" width="24.75" height="1.70" fill="#fff" stroke="#000" stroke-width="1.7"/>
<rect x="476.75" y="736.20" width="24.75" height="0.90" fill="#a3a3a3" stroke="#000" stroke-width="1.7"/>
<line x1="384.40" y1="601.90" x2="384.40" y2="737.95" stroke="#000" stroke-width="1.9" stroke-linecap="butt"/>
<line x1="383.55" y1="737.10" x2="507.50" y2="737.10" stroke="#000" stroke-width="1.9" stroke-linecap="butt"/>
<line x1="381.40" y1="737.10" x2="384.40" y2="737.10" stroke="#000" stroke-width="1.6" stroke-linecap="butt"/>
<g transform="translate(372.70,741.10) scale(1.0500,1)" fill="#000" stroke="#000" stroke-width="0.238"><text x="0.00" y="-0.00" font-size="11.60">0</text></g>
<line x1="381.40" y1="710.06" x2="384.40" y2="710.06" stroke="#000" stroke-width="1.6" stroke-linecap="butt"/>
<g transform="translate(365.93,714.06) scale(1.0500,1)" fill="#000" stroke="#000" stroke-width="0.238"><text x="0.00" y="-0.00" font-size="11.60">50</text></g>
<line x1="381.40" y1="683.02" x2="384.40" y2="683.02" stroke="#000" stroke-width="1.6" stroke-linecap="butt"/>
<g transform="translate(359.15,687.02) scale(1.0500,1)" fill="#000" stroke="#000" stroke-width="0.238"><text x="0.00" y="-0.00" font-size="11.60">100</text></g>
<line x1="381.40" y1="655.98" x2="384.40" y2="655.98" stroke="#000" stroke-width="1.6" stroke-linecap="butt"/>
<g transform="translate(359.15,659.98) scale(1.0500,1)" fill="#000" stroke="#000" stroke-width="0.238"><text x="0.00" y="-0.00" font-size="11.60">150</text></g>
<line x1="381.40" y1="628.94" x2="384.40" y2="628.94" stroke="#000" stroke-width="1.6" stroke-linecap="butt"/>
<g transform="translate(359.15,632.94) scale(1.0500,1)" fill="#000" stroke="#000" stroke-width="0.238"><text x="0.00" y="-0.00" font-size="11.60">200</text></g>
<line x1="381.40" y1="601.90" x2="384.40" y2="601.90" stroke="#000" stroke-width="1.6" stroke-linecap="butt"/>
<g transform="translate(359.15,605.90) scale(1.0500,1)" fill="#000" stroke="#000" stroke-width="0.238"><text x="0.00" y="-0.00" font-size="11.60">250</text></g>
<line x1="402.75" y1="737.10" x2="402.75" y2="740.30" stroke="#000" stroke-width="1.5" stroke-linecap="butt"/>
<line x1="427.50" y1="737.10" x2="427.50" y2="740.30" stroke="#000" stroke-width="1.5" stroke-linecap="butt"/>
<line x1="464.40" y1="737.10" x2="464.40" y2="740.30" stroke="#000" stroke-width="1.5" stroke-linecap="butt"/>
<line x1="489.40" y1="737.10" x2="489.40" y2="740.30" stroke="#000" stroke-width="1.5" stroke-linecap="butt"/>
<polyline points="178.10,729.00 178.10,583.00 228.00,583.00" fill="none" stroke="#000" stroke-width="1.7" stroke-linejoin="miter" stroke-linecap="butt"/>
<polyline points="244.00,583.00 275.60,583.00 275.60,622.50" fill="none" stroke="#000" stroke-width="1.7" stroke-linejoin="miter" stroke-linecap="butt"/>
<polygon points="233.10,580.00 233.95,582.04 236.14,582.21 234.47,583.64 234.98,585.79 233.10,584.64 231.22,585.79 231.73,583.64 230.06,582.21 232.25,582.04" fill="#000"/>
<polygon points="240.60,580.00 241.45,582.04 243.64,582.21 241.97,583.64 242.48,585.79 240.60,584.64 238.72,585.79 239.23,583.64 237.56,582.21 239.75,582.04" fill="#000"/>
<polyline points="178.10,594.75 191.50,594.75" fill="none" stroke="#000" stroke-width="1.7" stroke-linejoin="miter" stroke-linecap="butt"/>
<polyline points="215.50,594.75 225.00,594.75 225.00,601.25" fill="none" stroke="#000" stroke-width="1.7" stroke-linejoin="miter" stroke-linecap="butt"/>
<polygon points="195.60,591.80 196.45,593.84 198.64,594.01 196.97,595.44 197.48,597.59 195.60,596.44 193.72,597.59 194.23,595.44 192.56,594.01 194.75,593.84" fill="#000"/>
<polygon points="203.50,591.80 204.35,593.84 206.54,594.01 204.87,595.44 205.38,597.59 203.50,596.44 201.62,597.59 202.13,595.44 200.46,594.01 202.65,593.84" fill="#000"/>
<polygon points="211.25,591.80 212.10,593.84 214.29,594.01 212.62,595.44 213.13,597.59 211.25,596.44 209.37,597.59 209.88,595.44 208.21,594.01 210.40,593.84" fill="#000"/>
<polyline points="230.60,601.00 230.60,594.20 286.30,594.20" fill="none" stroke="#000" stroke-width="1.7" stroke-linejoin="miter" stroke-linecap="butt" stroke-dasharray="1.5,1.9"/>
<polyline points="309.00,594.20 328.10,594.20 328.10,725.60" fill="none" stroke="#000" stroke-width="1.7" stroke-linejoin="miter" stroke-linecap="butt" stroke-dasharray="1.5,1.9"/>
<polygon points="289.60,591.00 290.45,593.04 292.64,593.21 290.97,594.64 291.48,596.79 289.60,595.64 287.72,596.79 288.23,594.64 286.56,593.21 288.75,593.04" fill="#000"/>
<polygon points="296.60,591.00 297.45,593.04 299.64,593.21 297.97,594.64 298.48,596.79 296.60,595.64 294.72,596.79 295.23,594.64 293.56,593.21 295.75,593.04" fill="#000"/>
<polygon points="305.60,591.00 306.45,593.04 308.64,593.21 306.97,594.64 307.48,596.79 305.60,595.64 303.72,596.79 304.23,594.64 302.56,593.21 304.75,593.04" fill="#000"/>
<polyline points="279.00,621.90 279.00,603.30 292.00,603.30" fill="none" stroke="#000" stroke-width="1.7" stroke-linejoin="miter" stroke-linecap="butt"/>
<polyline points="310.00,603.30 325.60,603.30 325.60,725.60" fill="none" stroke="#000" stroke-width="1.7" stroke-linejoin="miter" stroke-linecap="butt"/>
<polygon points="298.10,600.80 298.95,602.84 301.14,603.01 299.47,604.44 299.98,606.59 298.10,605.44 296.22,606.59 296.73,604.44 295.06,603.01 297.25,602.84" fill="#000"/>
<polygon points="305.60,600.80 306.45,602.84 308.64,603.01 306.97,604.44 307.48,606.59 305.60,605.44 303.72,606.59 304.23,604.44 302.56,603.01 304.75,602.84" fill="#000"/>
<rect x="13.50" y="749.00" width="76.50" height="17.10" fill="none" stroke="#000" stroke-width="1.6"/>
<rect x="13.50" y="768.60" width="76.50" height="17.50" fill="none" stroke="#000" stroke-width="1.6"/>
<g transform="translate(20.37,762.00) scale(1.0137,1)" fill="#000" stroke="#000" stroke-width="0.247"><text x="0.00" y="-0.00" font-size="10.60">Host inocula</text></g>
<g transform="translate(16.12,780.50) scale(1.0072,1)" fill="#000" stroke="#000" stroke-width="0.248"><text x="0.00" y="-0.00" font-size="10.60">Donor inocula</text></g>
<line x1="108.75" y1="759.25" x2="116.25" y2="759.25" stroke="#000" stroke-width="1.2" stroke-linecap="butt"/>
<g transform="translate(159.65,758.50) scale(1.0344,1)" fill="#000" stroke="#000" stroke-width="0.242"><text x="0.00" y="-0.00" font-size="10.60">T</text></g>
<g transform="translate(211.90,758.50) scale(1.0344,1)" fill="#000" stroke="#000" stroke-width="0.242"><text x="0.00" y="-0.00" font-size="10.60">T</text></g>
<g transform="translate(264.65,758.50) scale(1.0344,1)" fill="#000" stroke="#000" stroke-width="0.242"><text x="0.00" y="-0.00" font-size="10.60">T</text></g>
<g transform="translate(319.15,758.50) scale(1.0344,1)" fill="#000" stroke="#000" stroke-width="0.242"><text x="0.00" y="-0.00" font-size="10.60">T</text></g>
<line x1="408.75" y1="758.50" x2="415.50" y2="758.50" stroke="#000" stroke-width="1.2" stroke-linecap="butt"/>
<g transform="translate(471.40,761.00) scale(1.0344,1)" fill="#000" stroke="#000" stroke-width="0.242"><text x="0.00" y="-0.00" font-size="10.60">T</text></g>
<g transform="translate(104.08,781.75) scale(1.0593,1)" fill="#000" stroke="#000" stroke-width="0.236"><text x="0.00" y="-0.00" font-size="10.60">BM</text></g>
<line x1="159.50" y1="777.25" x2="167.50" y2="777.25" stroke="#000" stroke-width="1.2" stroke-linecap="butt"/>
<g transform="translate(204.08,781.75) scale(1.0593,1)" fill="#000" stroke="#000" stroke-width="0.236"><text x="0.00" y="-0.00" font-size="10.60">BM</text></g>
<g transform="translate(244.61,781.75) scale(1.0211,1)" fill="#000" stroke="#000" stroke-width="0.245"><text x="0.00" y="-0.00" font-size="10.60">BM/Th2R</text><text x="44.77" y="3.29" font-size="6.89">lo</text></g>
<g transform="translate(304.55,781.75) scale(1.0913,1)" fill="#000" stroke="#000" stroke-width="0.229"><text x="0.00" y="-0.00" font-size="10.60">BM/Th2R</text><text x="44.77" y="3.29" font-size="6.89">hi</text></g>
<g transform="translate(404.08,780.50) scale(1.0593,1)" fill="#000" stroke="#000" stroke-width="0.236"><text x="0.00" y="-0.00" font-size="10.60">BM</text></g>
<g transform="translate(451.56,780.50) scale(1.0862,1)" fill="#000" stroke="#000" stroke-width="0.230"><text x="0.00" y="-0.00" font-size="10.60">BM/Th2R</text><text x="44.77" y="3.29" font-size="6.89">hi</text></g>
<g transform="translate(-0.18,822.25) scale(0.9973,1)" font-weight="bold" fill="#000"><text x="0.00" y="-0.00" font-size="21.50">D</text></g>
<g transform="translate(159.23,818.75) scale(1.0221,1)" fill="#000" stroke="#000" stroke-width="0.245"><text x="0.00" y="-0.00" font-size="16.30">Day 11 after BMT</text></g>
<g transform="translate(415.79,826.90) scale(0.9688,1)" fill="#000" stroke="#000" stroke-width="0.258"><text x="0.00" y="-0.00" font-size="14.00">Day 21</text></g>
<g transform="translate(47.90,953.94) rotate(-90) scale(0.9725,1)" fill="#000" stroke="#000" stroke-width="0.257"><text x="0.00" y="0.00" font-size="13.00">CD4</text><text x="26.01" y="-2.60" font-size="9.10">+</text><text x="31.32" y="0.00" font-size="13.00">CD45.1</text><text x="75.40" y="-2.60" font-size="9.10">+</text><text x="80.71" y="0.00" font-size="13.00">IFN</text><text x="101.65" y="0.00" font-size="10.40">γ</text><text x="106.85" y="-2.60" font-size="9.10">+</text></g>
<g transform="translate(61.80,939.64) rotate(-90) scale(0.9777,1)" fill="#000" stroke="#000" stroke-width="0.256"><text x="0.00" y="0.00" font-size="13.00">BM Cells (10</text><text x="74.41" y="-3.25" font-size="9.10">3</text><text x="79.47" y="0.00" font-size="13.00">)</text></g>
<rect x="95.50" y="987.00" width="20.50" height="1.00" fill="#fff" stroke="#000" stroke-width="1.7"/>
<rect x="116.00" y="987.00" width="20.00" height="1.00" fill="#a3a3a3" stroke="#000" stroke-width="1.7"/>
<rect x="146.90" y="987.00" width="20.10" height="1.00" fill="#fff" stroke="#000" stroke-width="1.7"/>
<rect x="167.00" y="987.00" width="20.50" height="1.00" fill="#a3a3a3" stroke="#000" stroke-width="1.7"/>
<rect x="198.75" y="987.00" width="20.50" height="1.00" fill="#fff" stroke="#000" stroke-width="1.7"/>
<line x1="229.20" y1="981.20" x2="229.20" y2="979.60" stroke="#000" stroke-width="1.5" stroke-linecap="butt"/>
<line x1="224.20" y1="979.60" x2="234.20" y2="979.60" stroke="#000" stroke-width="1.7" stroke-linecap="butt"/>
<rect x="219.25" y="981.20" width="21.95" height="6.80" fill="#a3a3a3" stroke="#000" stroke-width="1.7"/>
<rect x="249.40" y="986.30" width="21.20" height="1.70" fill="#fff" stroke="#000" stroke-width="1.7"/>
<line x1="280.93" y1="897.60" x2="280.93" y2="869.10" stroke="#000" stroke-width="1.5" stroke-linecap="butt"/>
<line x1="276.25" y1="869.10" x2="285.60" y2="869.10" stroke="#000" stroke-width="1.7" stroke-linecap="butt"/>
<rect x="270.60" y="897.60" width="21.30" height="90.40" fill="#a3a3a3" stroke="#000" stroke-width="1.7"/>
<rect x="301.00" y="987.00" width="20.00" height="1.00" fill="#fff" stroke="#000" stroke-width="1.7"/>
<rect x="321.00" y="986.50" width="21.00" height="1.50" fill="#a3a3a3" stroke="#000" stroke-width="1.7"/>
<line x1="90.75" y1="855.60" x2="90.75" y2="988.85" stroke="#000" stroke-width="1.9" stroke-linecap="butt"/>
<line x1="89.90" y1="988.00" x2="347.50" y2="988.00" stroke="#000" stroke-width="1.9" stroke-linecap="butt"/>
<line x1="87.75" y1="988.00" x2="90.75" y2="988.00" stroke="#000" stroke-width="1.6" stroke-linecap="butt"/>
<g transform="translate(79.10,991.00) scale(1.0500,1)" fill="#000" stroke="#000" stroke-width="0.238"><text x="0.00" y="-0.00" font-size="11.60">0</text></g>
<line x1="87.75" y1="954.90" x2="90.75" y2="954.90" stroke="#000" stroke-width="1.6" stroke-linecap="butt"/>
<g transform="translate(72.33,957.90) scale(1.0500,1)" fill="#000" stroke="#000" stroke-width="0.238"><text x="0.00" y="-0.00" font-size="11.60">10</text></g>
<line x1="87.75" y1="921.80" x2="90.75" y2="921.80" stroke="#000" stroke-width="1.6" stroke-linecap="butt"/>
<g transform="translate(72.33,924.80) scale(1.0500,1)" fill="#000" stroke="#000" stroke-width="0.238"><text x="0.00" y="-0.00" font-size="11.60">20</text></g>
<line x1="87.75" y1="888.70" x2="90.75" y2="888.70" stroke="#000" stroke-width="1.6" stroke-linecap="butt"/>
<g transform="translate(72.33,891.70) scale(1.0500,1)" fill="#000" stroke="#000" stroke-width="0.238"><text x="0.00" y="-0.00" font-size="11.60">30</text></g>
<line x1="87.75" y1="855.60" x2="90.75" y2="855.60" stroke="#000" stroke-width="1.6" stroke-linecap="butt"/>
<g transform="translate(72.33,858.60) scale(1.0500,1)" fill="#000" stroke="#000" stroke-width="0.238"><text x="0.00" y="-0.00" font-size="11.60">40</text></g>
<line x1="106.10" y1="988.00" x2="106.10" y2="991.20" stroke="#000" stroke-width="1.5" stroke-linecap="butt"/>
<line x1="125.50" y1="988.00" x2="125.50" y2="991.20" stroke="#000" stroke-width="1.5" stroke-linecap="butt"/>
<line x1="156.90" y1="988.00" x2="156.90" y2="991.20" stroke="#000" stroke-width="1.5" stroke-linecap="butt"/>
<line x1="177.50" y1="988.00" x2="177.50" y2="991.20" stroke="#000" stroke-width="1.5" stroke-linecap="butt"/>
<line x1="208.75" y1="988.00" x2="208.75" y2="991.20" stroke="#000" stroke-width="1.5" stroke-linecap="butt"/>
<line x1="229.20" y1="988.00" x2="229.20" y2="991.20" stroke="#000" stroke-width="1.5" stroke-linecap="butt"/>
<line x1="260.00" y1="988.00" x2="260.00" y2="991.20" stroke="#000" stroke-width="1.5" stroke-linecap="butt"/>
<line x1="280.60" y1="988.00" x2="280.60" y2="991.20" stroke="#000" stroke-width="1.5" stroke-linecap="butt"/>
<line x1="311.25" y1="988.00" x2="311.25" y2="991.20" stroke="#000" stroke-width="1.5" stroke-linecap="butt"/>
<line x1="331.90" y1="988.00" x2="331.90" y2="991.20" stroke="#000" stroke-width="1.5" stroke-linecap="butt"/>
<rect x="451.00" y="986.80" width="24.60" height="0.80" fill="#fff" stroke="#000" stroke-width="1.7"/>
<line x1="488.43" y1="983.10" x2="488.43" y2="981.00" stroke="#000" stroke-width="1.5" stroke-linecap="butt"/>
<line x1="483.10" y1="981.00" x2="493.75" y2="981.00" stroke="#000" stroke-width="1.7" stroke-linecap="butt"/>
<rect x="475.60" y="983.10" width="25.00" height="4.50" fill="#a3a3a3" stroke="#000" stroke-width="1.7"/>
<line x1="382.25" y1="851.90" x2="382.25" y2="988.45" stroke="#000" stroke-width="1.9" stroke-linecap="butt"/>
<line x1="381.40" y1="987.60" x2="501.90" y2="987.60" stroke="#000" stroke-width="1.9" stroke-linecap="butt"/>
<line x1="379.25" y1="987.60" x2="382.25" y2="987.60" stroke="#000" stroke-width="1.6" stroke-linecap="butt"/>
<g transform="translate(372.00,991.10) scale(1.0500,1)" fill="#000" stroke="#000" stroke-width="0.238"><text x="0.00" y="-0.00" font-size="11.60">0</text></g>
<line x1="379.25" y1="953.67" x2="382.25" y2="953.67" stroke="#000" stroke-width="1.6" stroke-linecap="butt"/>
<g transform="translate(365.23,957.17) scale(1.0500,1)" fill="#000" stroke="#000" stroke-width="0.238"><text x="0.00" y="-0.00" font-size="11.60">10</text></g>
<line x1="379.25" y1="919.75" x2="382.25" y2="919.75" stroke="#000" stroke-width="1.6" stroke-linecap="butt"/>
<g transform="translate(365.23,923.25) scale(1.0500,1)" fill="#000" stroke="#000" stroke-width="0.238"><text x="0.00" y="-0.00" font-size="11.60">20</text></g>
<line x1="379.25" y1="885.83" x2="382.25" y2="885.83" stroke="#000" stroke-width="1.6" stroke-linecap="butt"/>
<g transform="translate(365.23,889.33) scale(1.0500,1)" fill="#000" stroke="#000" stroke-width="0.238"><text x="0.00" y="-0.00" font-size="11.60">30</text></g>
<line x1="379.25" y1="851.90" x2="382.25" y2="851.90" stroke="#000" stroke-width="1.6" stroke-linecap="butt"/>
<g transform="translate(365.23,855.40) scale(1.0500,1)" fill="#000" stroke="#000" stroke-width="0.238"><text x="0.00" y="-0.00" font-size="11.60">40</text></g>
<line x1="399.75" y1="987.60" x2="399.75" y2="990.80" stroke="#000" stroke-width="1.5" stroke-linecap="butt"/>
<line x1="424.50" y1="987.60" x2="424.50" y2="990.80" stroke="#000" stroke-width="1.5" stroke-linecap="butt"/>
<line x1="463.25" y1="987.60" x2="463.25" y2="990.80" stroke="#000" stroke-width="1.5" stroke-linecap="butt"/>
<line x1="488.75" y1="987.60" x2="488.75" y2="990.80" stroke="#000" stroke-width="1.5" stroke-linecap="butt"/>
<polyline points="177.10,980.60 177.10,953.80 193.00,953.80" fill="none" stroke="#000" stroke-width="1.7" stroke-linejoin="miter" stroke-linecap="butt"/>
<polyline points="210.00,953.80 228.10,953.80 228.10,972.00" fill="none" stroke="#000" stroke-width="1.7" stroke-linejoin="miter" stroke-linecap="butt"/>
<polygon points="198.50,950.70 199.35,952.74 201.54,952.91 199.87,954.34 200.38,956.49 198.50,955.34 196.62,956.49 197.13,954.34 195.46,952.91 197.65,952.74" fill="#000"/>
<polygon points="206.25,950.70 207.10,952.74 209.29,952.91 207.62,954.34 208.13,956.49 206.25,955.34 204.37,956.49 204.88,954.34 203.21,952.91 205.40,952.74" fill="#000"/>
<polyline points="232.80,970.60 232.80,856.00 293.00,856.00" fill="none" stroke="#000" stroke-width="1.7" stroke-linejoin="miter" stroke-linecap="butt"/>
<polyline points="311.00,856.00 331.00,856.00 331.00,980.00" fill="none" stroke="#000" stroke-width="1.7" stroke-linejoin="miter" stroke-linecap="butt"/>
<polygon points="298.50,853.00 299.35,855.04 301.54,855.21 299.87,856.64 300.38,858.79 298.50,857.64 296.62,858.79 297.13,856.64 295.46,855.21 297.65,855.04" fill="#000"/>
<polygon points="306.50,853.00 307.35,855.04 309.54,855.21 307.87,856.64 308.38,858.79 306.50,857.64 304.62,858.79 305.13,856.64 303.46,855.21 305.65,855.04" fill="#000"/>
<polyline points="232.80,883.75 245.60,883.75" fill="none" stroke="#000" stroke-width="1.7" stroke-linejoin="miter" stroke-linecap="butt"/>
<polyline points="263.10,883.75 275.00,883.75 275.00,894.40" fill="none" stroke="#000" stroke-width="1.7" stroke-linejoin="miter" stroke-linecap="butt"/>
<polygon points="251.90,880.80 252.75,882.84 254.94,883.01 253.27,884.44 253.78,886.59 251.90,885.44 250.02,886.59 250.53,884.44 248.86,883.01 251.05,882.84" fill="#000"/>
<polygon points="259.75,880.80 260.60,882.84 262.79,883.01 261.12,884.44 261.63,886.59 259.75,885.44 257.87,886.59 258.38,884.44 256.71,883.01 258.90,882.84" fill="#000"/>
<polyline points="289.40,895.00 289.40,883.10 297.50,883.10" fill="none" stroke="#000" stroke-width="1.7" stroke-linejoin="miter" stroke-linecap="butt" stroke-dasharray="1.5,1.9"/>
<polyline points="315.50,883.10 324.40,883.10 324.40,983.10" fill="none" stroke="#000" stroke-width="1.7" stroke-linejoin="miter" stroke-linecap="butt" stroke-dasharray="1.5,1.9"/>
<polygon points="302.50,880.20 303.35,882.24 305.54,882.41 303.87,883.84 304.38,885.99 302.50,884.84 300.62,885.99 301.13,883.84 299.46,882.41 301.65,882.24" fill="#000"/>
<polygon points="310.60,880.20 311.45,882.24 313.64,882.41 311.97,883.84 312.48,885.99 310.60,884.84 308.72,885.99 309.23,883.84 307.56,882.41 309.75,882.24" fill="#000"/>
<rect x="6.90" y="1001.25" width="76.75" height="16.85" fill="none" stroke="#000" stroke-width="1.6"/>
<rect x="6.90" y="1021.25" width="77.70" height="16.85" fill="none" stroke="#000" stroke-width="1.6"/>
<g transform="translate(13.88,1013.75) scale(0.9981,1)" fill="#000" stroke="#000" stroke-width="0.250"><text x="0.00" y="-0.00" font-size="10.60">Host inocula</text></g>
<g transform="translate(9.38,1032.50) scale(1.0033,1)" fill="#000" stroke="#000" stroke-width="0.249"><text x="0.00" y="-0.00" font-size="10.60">Donor inocula</text></g>
<line x1="107.50" y1="1008.75" x2="115.50" y2="1008.75" stroke="#000" stroke-width="1.2" stroke-linecap="butt"/>
<g transform="translate(158.65,1013.00) scale(1.0344,1)" fill="#000" stroke="#000" stroke-width="0.242"><text x="0.00" y="-0.00" font-size="10.60">T</text></g>
<g transform="translate(211.65,1011.25) scale(1.0344,1)" fill="#000" stroke="#000" stroke-width="0.242"><text x="0.00" y="-0.00" font-size="10.60">T</text></g>
<g transform="translate(267.40,1012.00) scale(1.0344,1)" fill="#000" stroke="#000" stroke-width="0.242"><text x="0.00" y="-0.00" font-size="10.60">T</text></g>
<g transform="translate(320.40,1012.00) scale(1.0344,1)" fill="#000" stroke="#000" stroke-width="0.242"><text x="0.00" y="-0.00" font-size="10.60">T</text></g>
<line x1="406.25" y1="1007.50" x2="414.50" y2="1007.50" stroke="#000" stroke-width="1.2" stroke-linecap="butt"/>
<g transform="translate(472.90,1012.00) scale(1.0344,1)" fill="#000" stroke="#000" stroke-width="0.242"><text x="0.00" y="-0.00" font-size="10.60">T</text></g>
<g transform="translate(102.03,1034.25) scale(1.1122,1)" fill="#000" stroke="#000" stroke-width="0.225"><text x="0.00" y="-0.00" font-size="10.60">BM</text></g>
<line x1="158.75" y1="1029.25" x2="166.25" y2="1029.25" stroke="#000" stroke-width="1.2" stroke-linecap="butt"/>
<g transform="translate(204.08,1036.25) scale(1.0593,1)" fill="#000" stroke="#000" stroke-width="0.236"><text x="0.00" y="-0.00" font-size="10.60">BM</text></g>
<g transform="translate(246.10,1036.25) scale(1.0313,1)" fill="#000" stroke="#000" stroke-width="0.242"><text x="0.00" y="-0.00" font-size="10.60">BM/Th2R</text><text x="44.77" y="3.29" font-size="6.89">lo</text></g>
<g transform="translate(300.34,1036.25) scale(1.0503,1)" fill="#000" stroke="#000" stroke-width="0.238"><text x="0.00" y="-0.00" font-size="10.60">BM/Th2R</text><text x="44.77" y="3.29" font-size="6.89">hi</text></g>
<g transform="translate(402.78,1032.50) scale(1.1122,1)" fill="#000" stroke="#000" stroke-width="0.225"><text x="0.00" y="-0.00" font-size="10.60">BM</text></g>
<g transform="translate(451.56,1032.50) scale(1.0759,1)" fill="#000" stroke="#000" stroke-width="0.232"><text x="0.00" y="-0.00" font-size="10.60">BM/Th2R</text><text x="44.77" y="3.29" font-size="6.89">hi</text></g>
<rect x="1.20" y="1062.90" width="11.00" height="10.30" fill="#fff" stroke="#000" stroke-width="2.0"/>
<g transform="translate(18.10,1072.60) scale(1.0343,1)" fill="#000" stroke="#000" stroke-width="0.242"><text x="0.00" y="-0.00" font-size="13.80">Syngeneic DC stimulation</text></g>
<rect x="192.00" y="1062.90" width="10.20" height="10.30" fill="#858585" stroke="#000" stroke-width="2.0"/>
<g transform="translate(209.72,1072.60) scale(1.0316,1)" fill="#000" stroke="#000" stroke-width="0.242"><text x="0.00" y="-0.00" font-size="13.80">Allogeneic DC stimulation</text></g>
</svg>
</body></html>
